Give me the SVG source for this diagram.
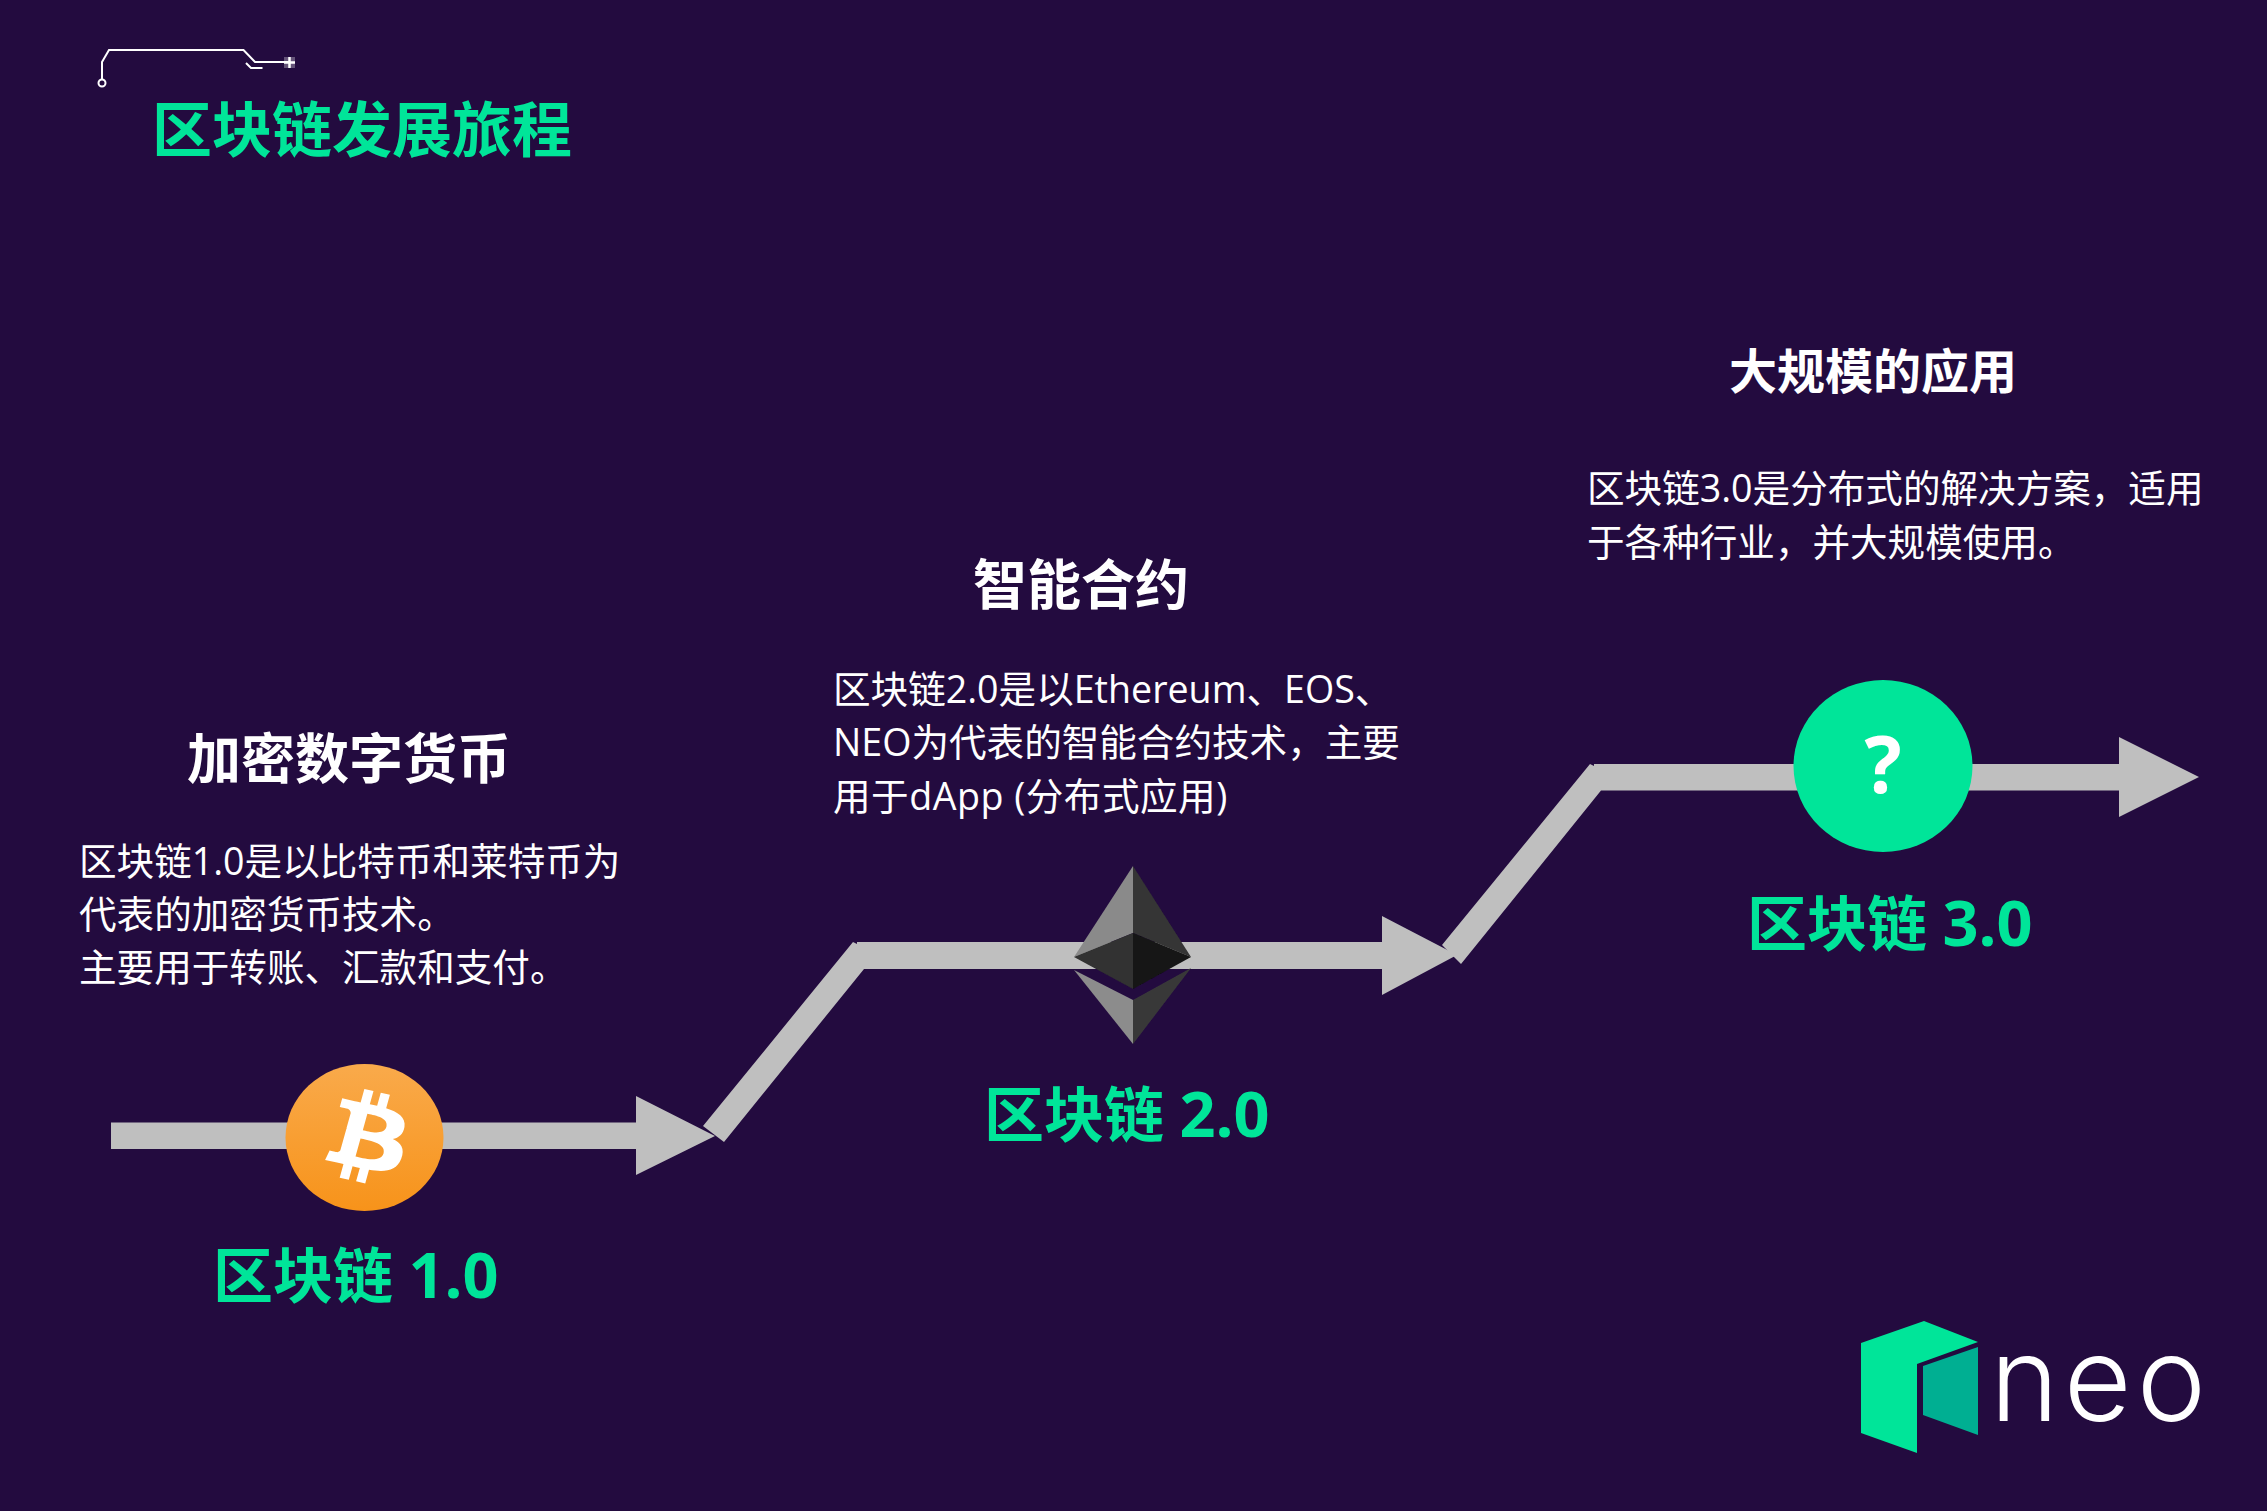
<svg xmlns="http://www.w3.org/2000/svg" width="2267" height="1511" viewBox="0 0 2267 1511">
<defs>
<linearGradient id="btc" x1="0" y1="0" x2="0" y2="1"><stop offset="0" stop-color="#F9AA4B"/><stop offset="1" stop-color="#F7931A"/></linearGradient>
<filter id="soft" x="-5%" y="-5%" width="110%" height="110%"><feGaussianBlur stdDeviation="0.7"/></filter>
</defs>
<style>
text{font-family:"Open Sans","Noto Sans CJK SC",sans-serif}
.body{font-size:37.600px;fill:#fff}
.head{font-size:54px;font-weight:700;fill:#fff}
.label{font-size:60px;font-weight:700;fill:#00E599}
.num{font-size:63px;font-weight:700}
.conn{fill:#BFBFBF}
.trace{fill:none;stroke:#fff;stroke-width:2}
</style>
<rect width="2267" height="1511" fill="#230B3F"/>
<g id="connectors">
<path class="conn" d="M111 1122.500H636V1096L715 1136L636 1175V1149H111Z"/>
<path class="conn" d="M703 1126L853 942L857 944V942H1382V916L1457 955L1382 995V969H864L724 1142Z"/>
<path class="conn" d="M1442 945L1590 764L1594 766V764H2119V737L2199 777L2119 817V790.500H1601L1461 964Z"/>
</g>
<g id="title">
<path class="trace" d="M102 79V62L109 50H243.500L255 62H289"/>
<path class="trace" d="M246 63L251 68H262.500"/>
<circle cx="102" cy="83" r="3.500" fill="none" stroke="#fff" stroke-width="2"/>
<rect x="284" y="57" width="11" height="11" fill="#fff" fill-opacity="0.3"/>
<path d="M284 62.500H295M289.500 57V68" stroke="#fff" stroke-width="2.500"/>
<text class="label" x="152" y="152">区块链发展旅程</text>
</g>
<g id="stage-1">
<text class="head" x="187" y="779">加密数字货币</text>
<text class="body" x="79" y="875">区块链1.0是以比特币和莱特币为</text>
<text class="body" x="79" y="928">代表的加密货币技术。</text>
<text class="body" x="79" y="981">主要用于转账、汇款和支付。</text>
<ellipse cx="364.500" cy="1137.500" rx="79" ry="73.500" fill="url(#btc)"/>
<path fill="#fff" transform="matrix(2.6 0 0 2.33 284.600 1063)" d="M46.103 27.444c.637-4.258-2.605-6.547-7.038-8.074l1.438-5.768-3.511-.875-1.4 5.616c-.923-.23-1.871-.447-2.813-.662l1.41-5.653-3.509-.875-1.439 5.766c-.764-.174-1.514-.346-2.242-.527l.004-.018-4.842-1.209-.934 3.75s2.605.597 2.55.634c1.422.355 1.679 1.296 1.636 2.042l-1.638 6.571c.098.025.225.061.365.117-.117-.029-.242-.061-.371-.092l-2.296 9.205c-.174.432-.615 1.08-1.609.834.035.051-2.552-.637-2.552-.637l-1.743 4.019 4.569 1.139c.85.213 1.683.436 2.503.646l-1.453 5.834 3.507.875 1.439-5.772c.958.26 1.888.5 2.798.726l-1.434 5.745 3.511.875 1.453-5.823c5.987 1.133 10.489.676 12.384-4.739 1.527-4.36-.076-6.875-3.226-8.515 2.294-.529 4.022-2.038 4.483-5.155zM38.08 38.693c-1.085 4.36-8.426 2.003-10.806 1.412l1.928-7.729c2.38.594 10.012 1.77 8.878 6.317zm1.086-11.312c-.99 3.966-7.1 1.951-9.082 1.457l1.748-7.01c1.982.494 8.365 1.416 7.334 5.553z"/>
<text class="label" x="213" y="1298">区块链 <tspan class="num">1.0</tspan></text>
</g>
<g id="stage-2">
<text class="head" x="973" y="605">智能合约</text>
<text class="body" x="833" y="703">区块链2.0是以Ethereum、EOS、</text>
<text class="body" x="833" y="756">NEO为代表的智能合约技术，主要</text>
<text class="body" x="833" y="810" letter-spacing="0.500">用于dApp (分布式应用)</text>
<g filter="url(#soft)">
<path fill="#8A8A8A" d="M1133 866L1074 957L1133 933Z"/>
<path fill="#343434" d="M1133 866L1191 957L1133 933Z"/>
<path fill="#303030" d="M1074 957L1133 933V989Z"/>
<path fill="#141414" d="M1191 957L1133 933V989Z"/>
<path fill="#8C8C8C" d="M1074 970L1133 1000V1044Z"/>
<path fill="#393939" d="M1191 968L1133 1000V1044Z"/>
</g>
<text class="label" x="984" y="1137">区块链 <tspan class="num">2.0</tspan></text>
</g>
<g id="stage-3">
<text class="head" x="1729" y="389" style="font-size:48px">大规模的应用</text>
<text class="body" x="1587" y="502">区块链3.0是分布式的解决方案，适用</text>
<text class="body" x="1587" y="556">于各种行业，并大规模使用。</text>
<ellipse cx="1883" cy="766" rx="89.500" ry="86" fill="#00E599"/>
<text x="1883" y="793" text-anchor="middle" font-size="78" font-weight="700" fill="#fff">?</text>
<text class="label" x="1747" y="946">区块链 <tspan class="num">3.0</tspan></text>
</g>
<g id="neo-logo">
<path fill="#00E599" d="M1861 1343L1924 1321L1978 1342L1917 1364V1453L1861 1433Z"/>
<path fill="#00AF92" d="M1923 1366L1978 1347V1435L1923 1415Z"/>
<text x="1990" y="1421" font-size="117" font-weight="300" letter-spacing="5" fill="#fff" style="font-family:Inter,sans-serif">neo</text>
</g>
</svg>
